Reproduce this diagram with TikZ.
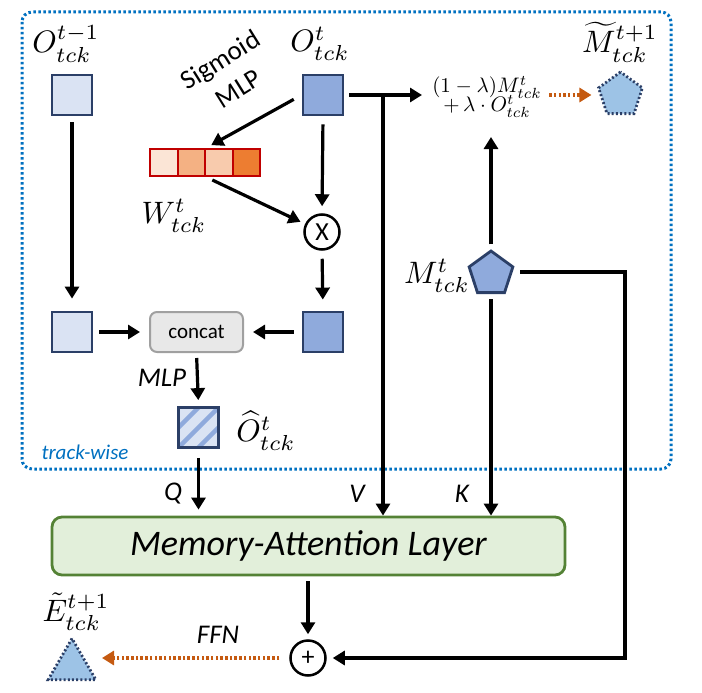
\documentclass[tikz,border=0pt]{standalone}
\usepackage{amsmath}
\usepackage[no-math]{fontspec}
\setmainfont{Carlito}
\usetikzlibrary{arrows.meta,shapes.geometric}
\definecolor{navy}{HTML}{2B3F67}
\definecolor{lblue}{HTML}{DAE3F3}
\definecolor{mblue}{HTML}{8FAADC}
\definecolor{pblue}{HTML}{9DC3E6}
\definecolor{tblue}{HTML}{0070C0}
\definecolor{gfill}{HTML}{E2EFDA}
\definecolor{gline}{HTML}{548235}
\definecolor{cfill}{HTML}{E8E8E8}
\definecolor{cline}{HTML}{A0A0A0}
\definecolor{oline}{HTML}{C55A11}
\definecolor{wa}{HTML}{FBE5D6}
\definecolor{wb}{HTML}{F4B183}
\definecolor{wc}{HTML}{F8CBAD}
\definecolor{wd}{HTML}{ED7D31}
\definecolor{wred}{HTML}{C00000}
\begin{document}
\begin{tikzpicture}[x=1pt,y=-1pt,
  sqbase/.style={draw=navy, line width=2.8pt, minimum size=40pt, inner sep=0pt},
  lsq/.style={sqbase, fill=lblue},
  msq/.style={sqbase, fill=mblue},
  cell/.style={draw=wred, line width=2pt, minimum width=27.5pt, minimum height=27pt, inner sep=0pt},
  concatbox/.style={draw=cline, line width=2pt, fill=cfill, rounded corners=7pt, minimum width=93pt, minimum height=40pt, font=\fontsize{21}{23}\selectfont},
  membox/.style={draw=gline, line width=2.8pt, fill=gfill, rounded corners=10pt, minimum width=513pt, minimum height=58pt, font=\fontsize{36}{38}\selectfont\itshape},
  opc/.style={circle, draw=black, line width=2.5pt, minimum size=35pt, inner sep=0pt, font=\fontsize{26}{28}\selectfont},
  arr/.style={line width=3.2pt, -{Triangle[length=12pt,width=14pt]}},
  odot/.style={draw=oline, line width=3.2pt, dash pattern=on 2.5pt off 2.2pt, -{Triangle[length=12pt,width=14pt,fill=oline]}},
  lab/.style={font=\fontsize{27}{29}\selectfont\itshape},
  mlab/.style={font=\normalsize, scale=3.1, inner sep=0pt},
  trackbox/.style={draw=tblue, line width=3pt, dash pattern=on 2.5pt off 2.5pt, rounded corners=10pt}
]
\useasboundingbox (0,0) rectangle (702,693);

% track-wise frame
\draw[trackbox] (22,12) rectangle (671,469);
\node[font=\fontsize{21}{23}\selectfont\itshape, text=tblue] (tw) at (85,452) {track-wise};

% squares
\node[lsq] (sqA) at (72,95) {};
\node[msq] (sqB) at (323,95) {};
\node[lsq] (sqC) at (72,332) {};
\node[msq] (sqD) at (323,332) {};
\node[concatbox] (cc) at (196.5,332) {concat};
\node[lsq, path picture={
  \foreach \d in {-10,0,10}
    \draw[mblue, line width=4.5pt] ([shift={(\d-30,\d+30)}]path picture bounding box.center) -- ([shift={(\d+30,\d-30)}]path picture bounding box.center);
  }] (hat) at (198.5,427.5) {};

% weight vector
\node[cell, fill=wa] (v1) at (163.75,162.5) {};
\node[cell, fill=wb] (v2) at (191.25,162.5) {};
\node[cell, fill=wc] (v3) at (218.75,162.5) {};
\node[cell, fill=wd] (v4) at (246.25,162.5) {};

% operators
\node[opc] (cross) at (322,232) {X};
\node[opc] (plus) at (308,658) {+};

% formula
\node[font=\normalsize, scale=2.1, align=center, inner sep=1pt] (form) at (487,97) {$(1-\lambda)M^t_{tck}$\\[-3pt]$+\,\lambda\cdot O^t_{tck}$};

% pentagons and triangle
\node[regular polygon, regular polygon sides=5, draw=navy, line width=2.8pt, fill=mblue, minimum size=46pt, inner sep=0pt] (pM) at (491,274) {};
\node[regular polygon, regular polygon sides=5, draw=navy, line width=2.8pt, dash pattern=on 2pt off 2.2pt, fill=pblue, minimum size=46pt, inner sep=0pt] (pT) at (620.5,95) {};
\node[regular polygon, regular polygon sides=3, draw=navy, line width=2.8pt, dash pattern=on 2pt off 2.2pt, fill=pblue, minimum size=55pt, inner sep=0pt] (tri) at (72,666) {};

% memory attention
\node[membox] (mem) at (308.5,546) {Memory-Attention Layer};

% math labels
\node[mlab] (lA) at (66,44) {$O^{t-1}_{tck}$};
\node[mlab] (lB) at (320,44) {$O^{t}_{tck}$};
\node[mlab] (lW) at (174,216) {$W^{t}_{tck}$};
\node[mlab] (lM) at (437,276) {$M^{t}_{tck}$};
\node[mlab] (lT) at (620,42) {$\widetilde{M}^{t+1}_{tck}$};
\node[mlab] (lH) at (266,431) {$\widehat{O}^{t}_{tck}$};
\node[mlab] (lE) at (76,612) {$\tilde{E}^{t+1}_{tck}$};

% text labels
\node[font=\fontsize{27}{34}\selectfont, align=center, rotate=32] (sig) at (229,74) {Sigmoid\\MLP};
\node[lab] (lmlp) at (162,378) {MLP};
\node[lab] (lq) at (173,494) {Q};
\node[lab] (lv) at (357,494) {V};
\node[lab] (lk) at (462,494) {K};
\node[lab] (lffn) at (218,635) {FFN};

% coordinates
\coordinate (vj) at (383,95);
\coordinate (ftipL) at (422,95);
\coordinate (ftipB) at (491,137);
\coordinate (rc1) at (625,272);
\coordinate (rc2) at (625,658);
\coordinate (etip) at (102,658);

% connectors
\draw[arr, shorten <=6pt, shorten >=12pt] (sqA.south) -- (sqC.north);
\draw[arr, shorten <=6pt, shorten >=9pt] (sqC.east) -- (cc.west);
\draw[arr, shorten <=8pt, shorten >=9pt] (sqD.west) -- (cc.east);
\draw[arr, shorten <=5pt, shorten >=6pt] (cc.south) -- (hat.north);
\draw[arr, shorten <=9pt, shorten >=6pt] (hat.south) -- (mem.north -| hat);
\draw[arr, shorten <=8pt, shorten >=7pt] (sqB.south) -- (cross.north);
\draw[arr, shorten <=8pt, shorten >=11pt] (cross.south) -- (sqD.north);
\draw[arr, shorten <=9pt, shorten >=6pt] (sqB.west) -- (v2.north east);
\draw[arr, shorten <=7pt, shorten >=5pt] (v2.south east) -- (cross);
\draw[arr, shorten <=5pt] (sqB.east) -- (ftipL);
\draw[arr] (vj) -- (vj |- mem.north);
\draw[arr, shorten <=5pt] (pM.north) -- (ftipB);
\draw[arr, shorten <=5pt] (pM.south) -- (pM.south |- mem.north);
\draw[arr, shorten <=8pt, shorten >=6pt] (pM.east |- rc1) -- (rc1) -- (rc2) -- (plus.east);
\draw[arr, shorten <=5pt, shorten >=5pt] (plus |- mem.south) -- (plus.north);
\draw[odot, shorten <=10pt] (plus.west) -- (etip);
\draw[odot, shorten <=5pt, shorten >=8pt] (form.east |- pT) -- (pT.west);
\end{tikzpicture}
\end{document}
